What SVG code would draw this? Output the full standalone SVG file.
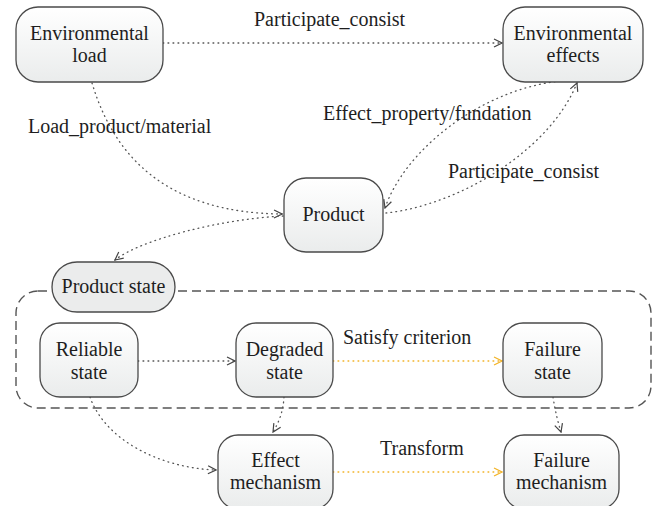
<svg xmlns="http://www.w3.org/2000/svg" width="653" height="506" viewBox="0 0 653 506" font-family="Liberation Serif, DejaVu Serif, Times New Roman, serif" font-size="20">
<defs>
<linearGradient id="g" x1="0" y1="0" x2="0" y2="1">
<stop offset="0" stop-color="#ffffff"/>
<stop offset="1" stop-color="#eaecec"/>
</linearGradient>
<marker id="a" viewBox="0 0 10 10" refX="9" refY="5" markerWidth="10" markerHeight="10" markerUnits="userSpaceOnUse" orient="auto">
<path d="M1,1 L9,5 L1,9" fill="none" stroke="#444" stroke-width="1.2"/>
</marker>
<marker id="ay" viewBox="0 0 10 10" refX="9" refY="5" markerWidth="10" markerHeight="10" markerUnits="userSpaceOnUse" orient="auto">
<path d="M1,1 L9,5 L1,9" fill="none" stroke="#f2b327" stroke-width="1.2"/>
</marker>
</defs>
<style>
.box{fill:url(#g);stroke:#4a4a4a;stroke-width:1.3}
text{fill:#1e1e1e}
.t{text-anchor:middle}
.c{fill:none;stroke:#555;stroke-width:1.3;stroke-dasharray:0.8 4.2;stroke-linecap:round;marker-end:url(#a)}
.y{fill:none;stroke:#f2b327;stroke-width:1.3;stroke-dasharray:0.8 4.2;stroke-linecap:round;marker-end:url(#ay)}
.dash{fill:none;stroke:#555;stroke-width:1.4;stroke-dasharray:9 5}
</style>
<rect width="653" height="506" fill="#ffffff"/>
<g id="container">
<rect class="dash" x="16" y="291" width="635" height="117" rx="22"/>
</g>
<g id="connectors">
<path class="c" d="M163 43 L502 43"/>
<path class="c" d="M92 83 C115 160 170 213 282 214"/>
<path class="c" d="M560 81 C480 90 405 150 385 208"/>
<path class="c" d="M386 213 C460 205 550 150 577 83"/>
<path class="c" d="M283 216 C220 219 140 240 115 260"/>
<path class="c" d="M138 361 L235 361"/>
<path class="y" d="M333 361 L502 361"/>
<path class="c" d="M284 397 Q283 416 273 432"/>
<path class="c" d="M553 397 Q556 416 561 432"/>
<path class="c" d="M90 397 C105 440 160 468 216 470"/>
<path class="y" d="M333 472 L502 472"/>
</g>
<g id="labels">
<text x="254" y="26">Participate_consist</text>
<text x="28" y="133">Load_product/material</text>
<text x="323" y="120">Effect_property/fundation</text>
<text x="448" y="178">Participate_consist</text>
<text x="343" y="344">Satisfy criterion</text>
<text x="380" y="455">Transform</text>
</g>
<g id="env-load">
<rect class="box" x="16" y="7" width="147" height="75" rx="22"/>
<text class="t" x="89.5" y="40">Environmental</text>
<text class="t" x="89.5" y="62">load</text>
</g>
<g id="env-effects">
<rect class="box" x="503" y="7" width="140" height="75" rx="22"/>
<text class="t" x="573" y="40">Environmental</text>
<text class="t" x="573" y="62">effects</text>
</g>
<g id="product">
<rect class="box" x="284" y="178" width="99" height="74" rx="22"/>
<text class="t" x="333.5" y="221">Product</text>
</g>
<g id="product-state">
<rect x="52" y="262" width="123" height="50" rx="25" fill="#ebecec" stroke="#4a4a4a" stroke-width="1.3"/>
<text class="t" x="113.5" y="293">Product state</text>
</g>
<g id="reliable">
<rect class="box" x="40" y="323" width="98" height="74" rx="20"/>
<text class="t" x="89" y="356">Reliable</text>
<text class="t" x="89" y="379">state</text>
</g>
<g id="degraded">
<rect class="box" x="236" y="323" width="97" height="74" rx="20"/>
<text class="t" x="284.5" y="356">Degraded</text>
<text class="t" x="284.5" y="379">state</text>
</g>
<g id="failure-state">
<rect class="box" x="503" y="323" width="99" height="74" rx="20"/>
<text class="t" x="552.5" y="356">Failure</text>
<text class="t" x="552.5" y="379">state</text>
</g>
<g id="effect-mech">
<rect class="box" x="218" y="435" width="115" height="74" rx="20"/>
<text class="t" x="275.5" y="467">Effect</text>
<text class="t" x="275.5" y="489">mechanism</text>
</g>
<g id="failure-mech">
<rect class="box" x="504" y="435" width="115" height="74" rx="20"/>
<text class="t" x="561.5" y="467">Failure</text>
<text class="t" x="561.5" y="489">mechanism</text>
</g>
</svg>
